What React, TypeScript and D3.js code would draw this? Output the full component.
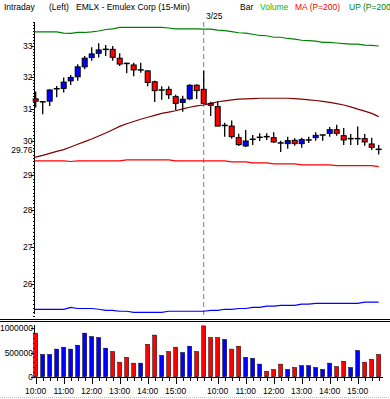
import React from 'react';
import * as d3 from 'd3';

// 15-min bars, 3/24 10:00 .. 3/25 15:45
const times = [
	'3/24 10:00', '3/24 10:15', '3/24 10:30', '3/24 10:45', '3/24 11:00', '3/24 11:15', '3/24 11:30', '3/24 11:45',
	'3/24 12:00', '3/24 12:15', '3/24 12:30', '3/24 12:45', '3/24 13:00', '3/24 13:15', '3/24 13:30', '3/24 13:45',
	'3/24 14:00', '3/24 14:15', '3/24 14:30', '3/24 14:45', '3/24 15:00', '3/24 15:15', '3/24 15:30', '3/24 15:45',
	'3/25 9:30', '3/25 9:45', '3/25 10:00', '3/25 10:15', '3/25 10:30', '3/25 10:45', '3/25 11:00', '3/25 11:15',
	'3/25 11:30', '3/25 11:45', '3/25 12:00', '3/25 12:15', '3/25 12:30', '3/25 12:45', '3/25 13:00', '3/25 13:15',
	'3/25 13:30', '3/25 13:45', '3/25 14:00', '3/25 14:15', '3/25 14:30', '3/25 14:45', '3/25 15:00', '3/25 15:15',
	'3/25 15:30', '3/25 15:45'
];

const opens = [
	31.30, 31.21, 31.23, 31.62, 31.63, 31.87, 32.00, 32.32, 32.62, 32.76, 32.89, 32.89, 32.60, 32.43, 32.38, 32.22,
	32.19, 31.84, 31.58, 31.60, 31.37, 31.19, 31.30, 31.73,
	31.60, 31.16, 31.06, 30.48, 30.46, 30.11, 29.86, 30.06, 30.12, 30.14, 30.11, 29.95, 29.93, 30.03, 29.93, 30.04,
	30.11, 30.19, 30.24, 30.35, 30.17, 30.08, 30.08, 30.08, 29.92, 29.76
];
const highs = [
	31.53, 31.22, 31.60, 31.71, 31.98, 32.06, 32.40, 32.67, 32.96, 33.09, 33.03, 33.00, 32.76, 32.45, 32.45, 32.45,
	32.20, 31.87, 31.70, 31.70, 31.43, 31.40, 31.76, 31.76,
	32.19, 31.21, 31.23, 30.56, 30.63, 30.23, 30.34, 30.19, 30.24, 30.24, 30.27, 30.02, 30.14, 30.09, 30.11, 30.14,
	30.27, 30.19, 30.43, 30.50, 30.40, 30.22, 30.45, 30.22, 30.11, 29.89
];
const lows = [
	31.03, 30.82, 31.08, 31.35, 31.50, 31.74, 31.87, 32.24, 32.52, 32.62, 32.67, 32.52, 32.35, 32.11, 32.02, 32.13,
	31.70, 31.20, 31.27, 31.30, 30.95, 30.90, 31.27, 31.30,
	31.13, 30.77, 30.46, 30.14, 30.08, 29.86, 29.83, 29.89, 30.01, 30.04, 29.95, 29.68, 29.78, 29.87, 29.81, 29.95,
	30.02, 30.02, 30.14, 30.17, 29.89, 29.89, 29.89, 29.87, 29.74, 29.61
];
const closes = [
	31.23, 31.21, 31.58, 31.62, 31.83, 31.98, 32.32, 32.60, 32.74, 32.87, 32.89, 32.63, 32.41, 32.43, 32.22, 32.22,
	31.82, 31.56, 31.58, 31.43, 31.16, 31.29, 31.73, 31.56,
	31.16, 31.10, 30.46, 30.48, 30.14, 29.90, 30.01, 30.06, 30.12, 30.14, 29.98, 29.95, 30.02, 29.93, 30.05, 30.04,
	30.18, 30.19, 30.35, 30.24, 30.04, 30.08, 30.08, 29.98, 29.82, 29.76
];

const volumes = [
	900000, 460000, 460000, 570000, 610000, 570000, 650000, 900000, 830000, 810000, 590000, 520000, 300000, 400000,
	280000, 280000, 670000, 860000, 440000, 520000, 610000, 500000, 630000, 520000,
	1050000, 810000, 810000, 770000, 570000, 630000, 400000, 380000, 260000, 110000, 150000, 260000, 150000, 190000,
	230000, 230000, 190000, 150000, 280000, 210000, 320000, 190000, 540000, 300000, 360000, 460000
];
const volumeDir = [
	'd', 'u', 'u', 'u', 'u', 'u', 'u', 'u', 'u', 'u', 'u', 'd', 'd', 'd', 'd', 'u', 'd', 'd', 'u', 'd', 'd', 'u', 'u', 'd',
	'd', 'd', 'd', 'u', 'd', 'd', 'u', 'u', 'u', 'd', 'd', 'd', 'u', 'd', 'u', 'u', 'u', 'u', 'u', 'd', 'd', 'u', 'u', 'd',
	'd', 'd'
];

// overlays
const maCurve = [
	29.52, 29.58, 29.64, 29.70, 29.75, 29.83, 29.91, 29.99, 30.07, 30.16, 30.25, 30.35, 30.45, 30.53, 30.60, 30.67,
	30.73, 30.79, 30.85, 30.89, 30.93, 30.99, 31.04, 31.08,
	31.11, 31.16, 31.21, 31.24, 31.27, 31.29, 31.30, 31.31, 31.32, 31.32, 31.32, 31.32, 31.32, 31.31, 31.29, 31.27,
	31.25, 31.22, 31.19, 31.15, 31.11, 31.05, 30.98, 30.92, 30.85, 30.75
];
const ma200 = [
	29.42, 29.42, 29.42, 29.42, 29.42, 29.40, 29.42, 29.42, 29.42, 29.42, 29.42, 29.42, 29.42, 29.45, 29.45, 29.45,
	29.45, 29.45, 29.45, 29.45, 29.42, 29.42, 29.42, 29.42,
	29.42, 29.42, 29.42, 29.42, 29.39, 29.39, 29.39, 29.36, 29.36, 29.36, 29.33, 29.33, 29.33, 29.33, 29.30, 29.30,
	29.30, 29.30, 29.30, 29.28, 29.28, 29.28, 29.28, 29.28, 29.28, 29.25
];
const up200 = [
	33.47, 33.47, 33.47, 33.47, 33.43, 33.42, 33.45, 33.45, 33.47, 33.50, 33.55, 33.57, 33.62, 33.62, 33.62, 33.62,
	33.62, 33.62, 33.62, 33.60, 33.57, 33.57, 33.57, 33.57,
	33.56, 33.56, 33.53, 33.51, 33.48, 33.44, 33.43, 33.39, 33.35, 33.34, 33.29, 33.29, 33.25, 33.23, 33.19, 33.18,
	33.16, 33.12, 33.12, 33.10, 33.08, 33.06, 33.06, 33.03, 33.02, 33.00
];
const dn200 = [
	25.36, 25.36, 25.36, 25.36, 25.36, 25.41, 25.38, 25.38, 25.38, 25.36, 25.33, 25.33, 25.31, 25.31, 25.28, 25.28,
	25.28, 25.28, 25.28, 25.31, 25.31, 25.31, 25.31, 25.31,
	25.31, 25.33, 25.33, 25.36, 25.36, 25.38, 25.38, 25.41, 25.41, 25.44, 25.44, 25.46, 25.46, 25.46, 25.49, 25.49,
	25.51, 25.51, 25.51, 25.51, 25.51, 25.51, 25.51, 25.54, 25.54, 25.54
];

const priceTicks = [26, 27, 28, 29, 30, 31, 32, 33];
const volumeTicks = [0, 500000, 1000000];
const lastPrice = 29.76;
const dayBreak = '3/25 9:30';

const FONT = '"Liberation Sans", Arial, sans-serif';
const RED = '#ff0000';
const BLUE = '#0000ff';

const App = () => {
	const x = d3.scalePoint<string>().domain(times).range([35.7, 378.7]);
	const y = d3.scaleLog().domain([25.19, 33.87]).range([316, 20]);
	const yv = d3.scaleLinear().domain([0, 1000000]).range([376.7, 328.3]);

	const minorPrice = d3.range(252, 339).map((v) => v / 10);
	const minorVol = d3.range(0, 11).map((v) => v * 100000);

	const line = (vals: number[]) =>
		d3
			.line<number>()
			.x((d, i) => (i === 0 ? 34.5 : (x(times[i]) as number)))
			.y((d) => y(d))(vals) as string;

	const hourLabels = times.filter((t) => t.endsWith(':00'));
	const breakX = x(dayBreak) as number;

	return (
		<svg width={390} height={399} style={{ position: 'absolute', left: 0, top: 0, background: '#fff' }} fontFamily={FONT}>
			{/* header */}
			<g fontSize={8.5} style={{ whiteSpace: 'pre' }}>
				<text x={4} y={10}>Intraday</text>
				<text x={49} y={10}>(Left)</text>
				<text x={76} y={10}>{'EMLX - Emulex Corp  (15-Min)'}</text>
				<text x={240} y={10}>Bar</text>
				<text x={260} y={10} fill="#00c000">Volume</text>
				<text x={295} y={10} fill={RED}>MA (P=200)</text>
				<text x={349} y={10} fill="#008000">UP (P=200</text>
				<text x={206} y={18.5}>3/25</text>
			</g>

			{/* price axis */}
			<g shapeRendering="crispEdges">
				<line x1={34.5} x2={34.5} y1={22} y2={314} stroke="#000" />
				{minorPrice.map((v) => (
					<line key={v} x1={32.5} x2={34.5} y1={Math.round(y(v)) + 0.5} y2={Math.round(y(v)) + 0.5} stroke="#000" />
				))}
				{priceTicks.map((v) => (
					<line key={'m' + v} x1={31} x2={34.5} y1={Math.round(y(v)) + 0.5} y2={Math.round(y(v)) + 0.5} stroke="#000" />
				))}
			</g>
			<g fontSize={8.5} textAnchor="end">
				{priceTicks.map((v) => (
					<text key={v} x={32.5} y={y(v) + 3}>{v}</text>
				))}
				<text x={32.5} y={y(lastPrice) + 3.5}>{lastPrice.toFixed(2)}</text>
			</g>

			{/* day break */}
			<line x1={breakX} x2={breakX} y1={22} y2={316} stroke="#808080" strokeWidth={1} strokeDasharray="5,3" />

			{/* overlays */}
			<path d={line(up200)} fill="none" stroke="#008000" strokeWidth={1.2} />
			<path d={line(ma200)} fill="none" stroke={RED} strokeWidth={1.2} />
			<path d={line(dn200)} fill="none" stroke={BLUE} strokeWidth={1.2} />
			<path d={line(maCurve)} fill="none" stroke="#800000" strokeWidth={1.2} />

			{/* candles */}
			<g>
				{times.map((t, i) => {
					const cx = x(t) as number;
					const o = opens[i];
					const c = closes[i];
					const top = y(Math.max(o, c));
					const bot = y(Math.min(o, c));
					return (
						<g key={t}>
							<line x1={cx} x2={cx} y1={y(highs[i])} y2={y(lows[i])} stroke="#000" strokeWidth={1.3} />
							{o === c ? (
								<line x1={cx - 3} x2={cx + 3} y1={top} y2={top} stroke="#000" strokeWidth={1.5} />
							) : (
								<rect
									x={cx - 2.5}
									y={top}
									width={5}
									height={Math.max(bot - top, 1.5)}
									fill={c > o ? BLUE : RED}
									stroke="#000"
									strokeWidth={1}
								/>
							)}
						</g>
					);
				})}
			</g>

			{/* panel separator */}
			<g shapeRendering="crispEdges" stroke="#000">
				<line x1={0} x2={390} y1={319.5} y2={319.5} strokeWidth={1} />
				<line x1={0} x2={390} y1={321.5} y2={321.5} strokeWidth={1} />
			</g>

			{/* volume axis */}
			<g shapeRendering="crispEdges" stroke="#000">
				<line x1={34.5} x2={34.5} y1={325} y2={377} />
				{minorVol.map((v) => (
					<line key={v} x1={32.5} x2={34.5} y1={Math.round(yv(v)) + 0.5} y2={Math.round(yv(v)) + 0.5} />
				))}
				{volumeTicks.map((v) => (
					<line key={'t' + v} x1={31} x2={34.5} y1={Math.round(yv(v)) + 0.5} y2={Math.round(yv(v)) + 0.5} />
				))}
				<line x1={34.5} x2={383} y1={377.5} y2={377.5} />
				{times.map((t) => {
					const hour = hourLabels.includes(t);
					const tx = Math.round(x(t) as number) + 0.5;
					return <line key={t} x1={tx} x2={tx} y1={377.5} y2={hour ? 384 : 381} />;
				})}
			</g>
			<g fontSize={8.5} textAnchor="end">
				{volumeTicks.map((v) => (
					<text key={v} x={33} y={yv(v) + 3}>{v}</text>
				))}
			</g>

			{/* volume bars */}
			<g>
				{times.map((t, i) => (
					<rect
						key={t}
						x={(x(t) as number) - 2}
						y={yv(volumes[i])}
						width={4}
						height={yv(0) - yv(volumes[i])}
						fill={volumeDir[i] === 'u' ? BLUE : RED}
						stroke="#000"
						strokeWidth={0.5}
					/>
				))}
			</g>

			{/* time labels */}
			<g fontSize={8.5} textAnchor="middle">
				{hourLabels.map((t) => (
					<text key={t} x={x(t) as number} y={394}>{t.split(' ')[1]}</text>
				))}
			</g>

			<line x1={0} x2={390} y1={397.5} y2={397.5} stroke="#bbb" strokeDasharray="1,1" />
		</svg>
	);
};

export default App;
